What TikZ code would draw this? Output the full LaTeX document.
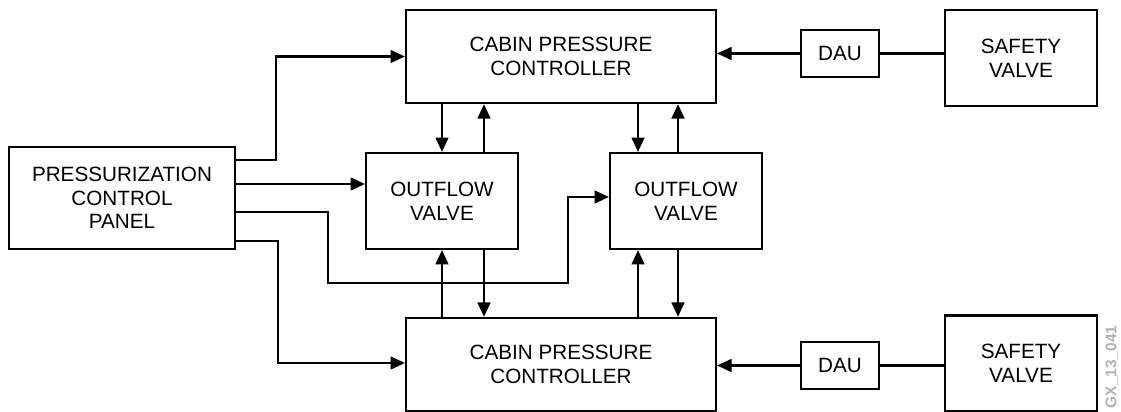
\documentclass[tikz,border=0pt]{standalone}
\usepackage{fontspec}
\setmainfont{Liberation Sans}
\usetikzlibrary{arrows.meta}
\begin{document}
\begin{tikzpicture}[x=0.025cm, y=-0.025cm, line width=1.5pt, every node/.style={rectangle, draw, line width=1.5pt, align=center, inner sep=0pt, font=\fontsize{14.7}{16.8}\selectfont}, box/.style={minimum width=3.8cm, minimum height=2.4cm}, ctrl/.style={minimum width=7.75cm, minimum height=2.33cm}, dau/.style={minimum width=1.95cm, minimum height=1.18cm}, arr/.style={-{Triangle[length=0.36cm, width=0.32cm]}}]
	\useasboundingbox (0,0) rectangle (1121,412);
	\node[minimum width=5.65cm, minimum height=2.55cm] (pcp) at (122,198) {PRESSURIZATION\\CONTROL\\PANEL};
	\node[ctrl] (cpc1) at (561,56.5) {CABIN PRESSURE\\CONTROLLER};
	\node[ctrl] (cpc2) at (561,364.5) {CABIN PRESSURE\\CONTROLLER};
	\node[box] (ov1) at (442,201) {OUTFLOW\\VALVE};
	\node[box] (ov2) at (686,201) {OUTFLOW\\VALVE};
	\node[dau] (dau1) at (840,53.5) {DAU};
	\node[dau] (dau2) at (840,365.5) {DAU};
	\node[box] (sv1) at (1021,58) {SAFETY\\VALVE};
	\node[box] (sv2) at (1021,363.5) {SAFETY\\VALVE};
	\node[draw=none, rotate=90, text=gray!60, font=\fontsize{11}{13}\selectfont\bfseries] (code) at (1112,367) {GX\_13\_041};

	\draw[arr] (pcp.east |- 0,160) -- (276,160) |- (cpc1.west);
	\draw[arr] (pcp.east |- 0,184) -- (ov1.west |- 0,184);
	\draw[arr] (pcp.east |- 0,212) -- (328,212) |- (568,283) |- (ov2.west |- 0,197);
	\draw[arr] (pcp.east |- 0,241) -- (278,241) |- (cpc2.west |- 0,363);

	\draw[arr] (cpc1.south -| 442,0) -- (ov1.north -| 442,0);
	\draw[arr] (ov1.north -| 484,0) -- (cpc1.south -| 484,0);
	\draw[arr] (cpc1.south -| 638,0) -- (ov2.north -| 638,0);
	\draw[arr] (ov2.north -| 678,0) -- (cpc1.south -| 678,0);
	\draw[arr] (cpc2.north -| 442,0) -- (ov1.south -| 442,0);
	\draw[arr] (ov1.south -| 484,0) -- (cpc2.north -| 484,0);
	\draw[arr] (cpc2.north -| 638,0) -- (ov2.south -| 638,0);
	\draw[arr] (ov2.south -| 678,0) -- (cpc2.north -| 678,0);

	\draw[arr] (dau1.west) -- (cpc1.east |- dau1.west);
	\draw (sv1.west |- dau1.east) -- (dau1.east);
	\draw[arr] (dau2.west) -- (cpc2.east |- dau2.west);
	\draw (sv2.west |- dau2.east) -- (dau2.east);
\end{tikzpicture}
\end{document}
